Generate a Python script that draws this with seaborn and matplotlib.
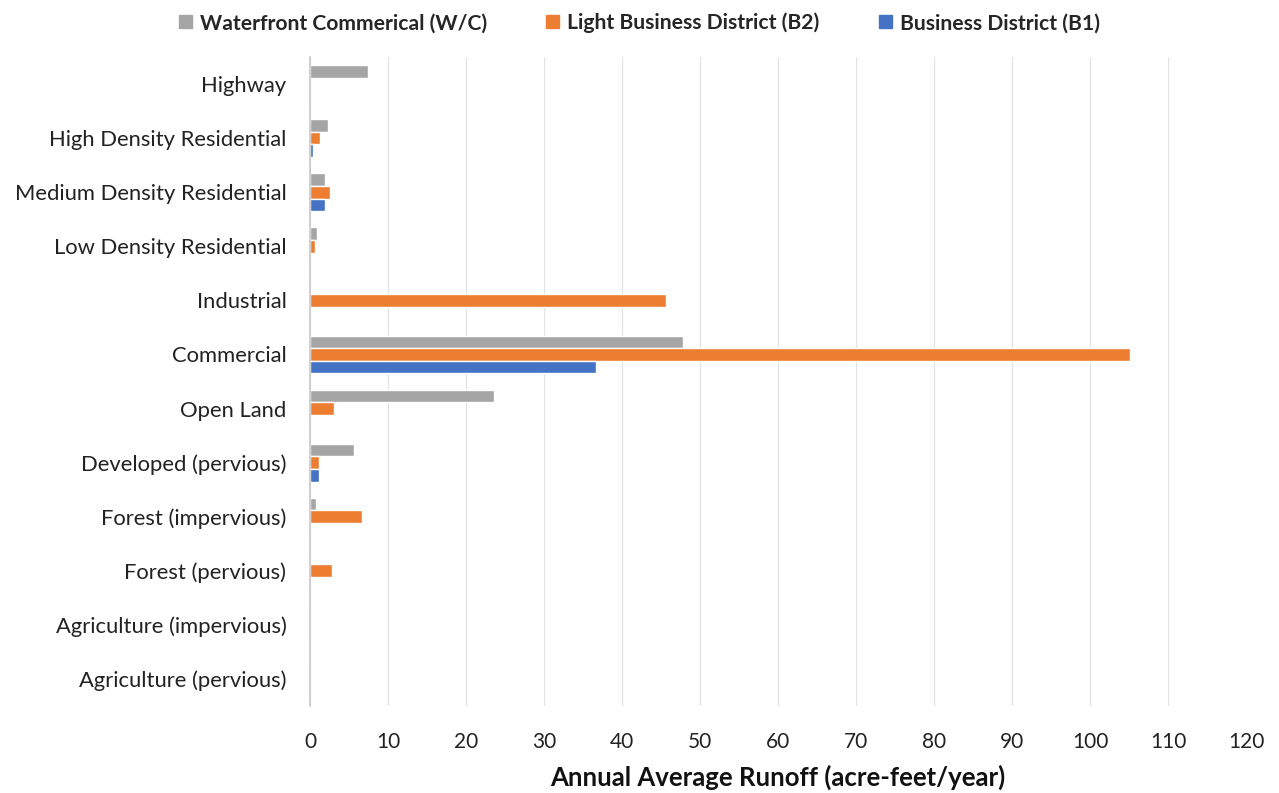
import numpy as np
import pandas as pd
import seaborn as sns
import matplotlib.pyplot as plt
from matplotlib.patches import Patch

land_use = ['Highway', 'High Density Residential', 'Medium Density Residential',
            'Low Density Residential', 'Industrial', 'Commercial', 'Open Land',
            'Developed (pervious)', 'Forest (impervious)', 'Forest (pervious)',
            'Agriculture (impervious)', 'Agriculture (pervious)']

districts = ['Waterfront Commerical (W/C)', 'Light Business District (B2)', 'Business District (B1)']

wc = [7.4, 2.3, 1.9, 0.9, 0.0, 47.8, 23.6, 5.7, 0.8, 0.0, 0.0, 0.0]
b2 = [0.0, 1.3, 2.5, 0.7, 45.7, 105.1, 3.1, 1.2, 6.6, 2.8, 0.0, 0.0]
b1 = [0.0, 0.4, 1.9, 0.0, 0.0, 36.7, 0.0, 1.2, 0.0, 0.0, 0.0, 0.0]

colors = ['#A5A5A5', '#ED7D31', '#4472C4']

rows = []
for name, vals in zip(districts, [wc, b2, b1]):
    for lu, v in zip(land_use, vals):
        rows.append([lu, name, v])
data = pd.DataFrame(rows, columns=['land_use', 'district', 'runoff'])

sns.set_theme(style='white')
plt.rcParams['font.family'] = ['Lato', 'DejaVu Sans']

fig = plt.figure(figsize=(12.79, 7.93), dpi=100)
ax = fig.add_axes([0.2424, 0.1097, 0.7318, 0.8184])

sns.barplot(data=data, x='runoff', y='land_use', hue='district', order=land_use,
            hue_order=districts, palette=colors, orient='h', width=0.7,
            saturation=1, ax=ax, legend=False)

ax.set_xlim(0, 120)
ax.set_xticks(np.arange(0, 121, 10))
ax.xaxis.grid(True, color='#E3E3E3', linewidth=0.9)
ax.set_axisbelow(True)
for s in ['top', 'right', 'bottom']:
    ax.spines[s].set_visible(False)
ax.spines['left'].set_color('#C8C8C8')
ax.spines['left'].set_linewidth(1.2)
ax.tick_params(axis='x', length=0, labelsize=15, colors='#222222', pad=19)
ax.tick_params(axis='y', length=0, labelsize=15.8, colors='#222222', pad=17)
ax.set_ylabel('')
ax.set_xlabel('Annual Average Runoff (acre-feet/year)', fontsize=18.5, fontweight='bold',
              labelpad=9, color='#111111')

handles = [Patch(color=c, label=d) for c, d in zip(colors, districts)]
leg = fig.legend(handles=handles, loc='upper center', bbox_to_anchor=(0.5, 1.008), ncol=3,
                 frameon=False, handlelength=0.6, handleheight=0.6, handletextpad=0.4,
                 columnspacing=2.8, prop={'size': 15.2, 'weight': 'bold'})

fig.savefig('out.png', dpi=100)
